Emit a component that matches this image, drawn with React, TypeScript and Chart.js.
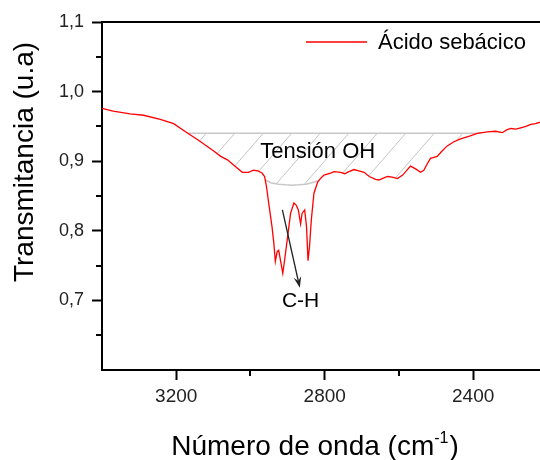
import React, { useEffect, useRef } from "react";
import { Chart, registerables } from "chart.js";

Chart.register(...registerables);

// ---- data ----
const WAVENUMBER = [
  3400, 3370, 3324, 3288, 3243, 3207, 3171, 3140, 3121, 3100, 3080, 3062, 3040, 3022, 3005, 2992,
  2980, 2969, 2962, 2957, 2951, 2942, 2937, 2933, 2928, 2924, 2919, 2913, 2908, 2901, 2892, 2883,
  2877, 2871, 2865, 2861, 2854, 2849, 2845, 2841, 2836, 2829, 2819, 2810, 2802, 2784, 2775, 2757,
  2746, 2735, 2721, 2708, 2694, 2680, 2663, 2654, 2645, 2631, 2618, 2604, 2590, 2580, 2569, 2555,
  2542, 2533, 2524, 2515, 2497, 2485, 2470, 2452, 2434, 2410, 2389, 2375, 2362, 2340, 2321, 2310,
  2299, 2285, 2272, 2258, 2245, 2232, 2220,
];
const TRANSMITTANCE = [
  0.976, 0.972, 0.968, 0.966, 0.96, 0.954, 0.941, 0.93, 0.923, 0.915, 0.907, 0.902, 0.892, 0.884, 0.884, 0.887,
  0.886, 0.883, 0.878, 0.864, 0.84, 0.806, 0.782, 0.756, 0.77, 0.772, 0.757, 0.739, 0.758, 0.787, 0.825, 0.84,
  0.837, 0.83, 0.81, 0.825, 0.83, 0.806, 0.757, 0.777, 0.816, 0.854, 0.87, 0.876, 0.88, 0.883, 0.885, 0.884,
  0.882, 0.885, 0.888, 0.886, 0.884, 0.878, 0.874, 0.873, 0.875, 0.878, 0.877, 0.875, 0.88, 0.886, 0.893, 0.889,
  0.884, 0.887, 0.896, 0.904, 0.907, 0.914, 0.922, 0.928, 0.932, 0.936, 0.94, 0.941, 0.942, 0.943, 0.941, 0.945,
  0.947, 0.946, 0.948, 0.95, 0.953, 0.954, 0.956,
];
const SERIES_LABEL = "Ácido sebácico";

const X_RANGE = [2220, 3400];
const Y_RANGE = [0.6, 1.1];
const X_TICKS = [3200, 2800, 2400];
const X_MINOR = [3000, 2600];
const Y_TICKS = [0.7, 0.8, 0.9, 1.0, 1.1];
const Y_MINOR = [0.65, 0.75, 0.85, 0.95, 1.05];

// hatched "Tensión OH" band
const HATCH_LEVEL = 0.94;
const HATCH_X = [3170, 2378];
const ARC_X = [2960, 2945, 2925, 2905, 2890, 2870, 2850, 2835, 2817];
const ARC_Y = [0.873, 0.869, 0.867, 0.866, 0.8655, 0.866, 0.867, 0.869, 0.872];
const OH_LABEL = "Tensión OH";
const OH_POS = [2819, 0.913];

// C-H annotation
const CH_LABEL = "C-H";
const CH_POS = [2865, 0.699];
const ARROW_FROM = [2914, 0.83];
const ARROW_TO = [2867, 0.718];

const X_TITLE = "Número de onda (cm";
const X_TITLE_SUP = "-1";
const X_TITLE_END = ")";
const Y_TITLE = "Transmitancia (u.a)";

const FONT = "'Liberation Sans', Arial, sans-serif";

const decorPlugin = {
  id: "decor",
  beforeDatasetsDraw(chart: any) {
    const { ctx, scales } = chart;
    const xs = scales.x;
    const ys = scales.y;
    const px = (v: number) => xs.getPixelForValue(v);
    const py = (v: number) => ys.getPixelForValue(v);

    // lower boundary of the band (descending wavenumber)
    const lower: number[][] = [];
    for (let i = 0; i < WAVENUMBER.length; i++) {
      const w = WAVENUMBER[i];
      if (w <= HATCH_X[0] && w > ARC_X[0]) lower.push([w, TRANSMITTANCE[i]]);
    }
    for (let i = 0; i < ARC_X.length; i++) lower.push([ARC_X[i], ARC_Y[i]]);
    for (let i = 0; i < WAVENUMBER.length; i++) {
      const w = WAVENUMBER[i];
      if (w < ARC_X[ARC_X.length - 1] && w >= HATCH_X[1]) lower.push([w, TRANSMITTANCE[i]]);
    }

    ctx.save();
    ctx.beginPath();
    ctx.moveTo(px(HATCH_X[0]), py(HATCH_LEVEL));
    ctx.lineTo(px(HATCH_X[1]), py(HATCH_LEVEL));
    for (let i = lower.length - 1; i >= 0; i--) ctx.lineTo(px(lower[i][0]), py(lower[i][1]));
    ctx.closePath();
    ctx.clip();
    const top = py(HATCH_LEVEL) - 2;
    const bot = py(0.86) + 2;
    const slope = 1.15;
    const dx = (bot - top) / slope;
    ctx.strokeStyle = "#c4c4c4";
    ctx.lineWidth = 1;
    for (let x0 = chart.chartArea.left - 60; x0 < chart.chartArea.right + 60; x0 += 28.5) {
      ctx.beginPath();
      ctx.moveTo(x0, bot);
      ctx.lineTo(x0 + dx, top);
      ctx.stroke();
    }
    ctx.restore();

    ctx.save();
    ctx.strokeStyle = "#c8c8c8";
    ctx.lineWidth = 1.5;
    ctx.beginPath();
    ctx.moveTo(px(HATCH_X[0]), py(HATCH_LEVEL));
    ctx.lineTo(px(HATCH_X[1]), py(HATCH_LEVEL));
    ctx.stroke();
    ctx.beginPath();
    for (let i = 0; i < ARC_X.length; i++) {
      const X = px(ARC_X[i]);
      const Y = py(ARC_Y[i]);
      if (i === 0) ctx.moveTo(X, Y);
      else ctx.lineTo(X, Y);
    }
    ctx.stroke();
    ctx.restore();
  },
  afterDraw(chart: any) {
    const { ctx, scales, chartArea } = chart;
    const xs = scales.x;
    const ys = scales.y;
    const px = (v: number) => xs.getPixelForValue(v);
    const py = (v: number) => ys.getPixelForValue(v);
    ctx.save();

    // top frame line
    ctx.strokeStyle = "#000";
    ctx.lineWidth = 2;
    ctx.beginPath();
    ctx.moveTo(chartArea.left - 1, chartArea.top);
    ctx.lineTo(chartArea.right, chartArea.top);
    ctx.stroke();

    // minor ticks
    ctx.beginPath();
    for (const v of X_MINOR) {
      const X = Math.round(px(v));
      ctx.moveTo(X, chartArea.bottom);
      ctx.lineTo(X, chartArea.bottom + 6);
    }
    for (const v of Y_MINOR) {
      const Y = Math.round(py(v));
      ctx.moveTo(chartArea.left, Y);
      ctx.lineTo(chartArea.left - 6, Y);
    }
    ctx.stroke();

    // legend
    const ds = chart.data.datasets[0];
    ctx.strokeStyle = ds.borderColor;
    ctx.lineWidth = 1.3;
    ctx.beginPath();
    ctx.moveTo(306, 42);
    ctx.lineTo(367, 42);
    ctx.stroke();
    ctx.fillStyle = "#000";
    ctx.font = `22px ${FONT}`;
    ctx.textAlign = "left";
    ctx.textBaseline = "middle";
    ctx.fillText(ds.label, 378, 43);

    // Tensión OH label
    ctx.textAlign = "center";
    ctx.fillText(OH_LABEL, px(OH_POS[0]), py(OH_POS[1]));

    // C-H label
    ctx.font = `21px ${FONT}`;
    ctx.fillText(CH_LABEL, px(CH_POS[0]), py(CH_POS[1]));

    // arrow
    const ax0 = px(ARROW_FROM[0]);
    const ay0 = py(ARROW_FROM[1]);
    const ax1 = px(ARROW_TO[0]);
    const ay1 = py(ARROW_TO[1]);
    const ang = Math.atan2(ay1 - ay0, ax1 - ax0);
    ctx.strokeStyle = "#222";
    ctx.fillStyle = "#222";
    ctx.lineWidth = 1.3;
    ctx.beginPath();
    ctx.moveTo(ax0, ay0);
    ctx.lineTo(ax1 - 6 * Math.cos(ang), ay1 - 6 * Math.sin(ang));
    ctx.stroke();
    const L = 12;
    const a = 0.33;
    ctx.beginPath();
    ctx.moveTo(ax1, ay1);
    ctx.lineTo(ax1 - L * Math.cos(ang - a), ay1 - L * Math.sin(ang - a));
    ctx.lineTo(ax1 - 7 * Math.cos(ang), ay1 - 7 * Math.sin(ang));
    ctx.lineTo(ax1 - L * Math.cos(ang + a), ay1 - L * Math.sin(ang + a));
    ctx.closePath();
    ctx.fill();

    // axis titles
    ctx.fillStyle = "#000";
    ctx.textBaseline = "alphabetic";
    ctx.textAlign = "left";
    const big = `28px ${FONT}`;
    const small = `16px ${FONT}`;
    ctx.font = big;
    const w1 = ctx.measureText(X_TITLE).width;
    const w3 = ctx.measureText(X_TITLE_END).width;
    ctx.font = small;
    const w2 = ctx.measureText(X_TITLE_SUP).width;
    const total = w1 + w2 + w3 + 1;
    let x = 315 - total / 2;
    const base = 455;
    ctx.font = big;
    ctx.fillText(X_TITLE, x, base);
    x += w1;
    ctx.font = small;
    ctx.fillText(X_TITLE_SUP, x, base - 12);
    x += w2 + 1;
    ctx.font = big;
    ctx.fillText(X_TITLE_END, x, base);

    ctx.translate(33, 162);
    ctx.rotate(-Math.PI / 2);
    ctx.textAlign = "center";
    ctx.font = big;
    ctx.fillText(Y_TITLE, 0, 0);
    ctx.restore();
  },
};

export default function App() {
  const ref = useRef<HTMLCanvasElement | null>(null);

  useEffect(() => {
    const canvas = ref.current;
    if (!canvas) return;
    const points = WAVENUMBER.map((w, i) => ({ x: w, y: TRANSMITTANCE[i] }));
    const chart = new Chart(canvas, {
      type: "line",
      data: {
        datasets: [
          {
            label: SERIES_LABEL,
            data: points,
            borderColor: "#ff0000",
            borderWidth: 1.3,
            pointRadius: 0,
            tension: 0,
            fill: false,
          },
        ],
      },
      options: {
        responsive: false,
        animation: false,
        events: [],
        layout: { padding: { top: 22, left: 0, right: 0, bottom: 0 } },
        plugins: { legend: { display: false }, tooltip: { enabled: false } },
        scales: {
          x: {
            type: "linear",
            reverse: true,
            min: X_RANGE[0],
            max: X_RANGE[1],
            afterBuildTicks: (s: any) => {
              s.ticks = X_TICKS.map((v) => ({ value: v }));
            },
            afterFit: (s: any) => {
              s.height = 90;
            },
            grid: {
              drawOnChartArea: false,
              drawTicks: true,
              tickLength: 10,
              tickColor: "#000",
              tickWidth: 2,
            },
            border: { display: true, color: "#000", width: 2 },
            ticks: {
              font: { family: FONT, size: 19 },
              color: "#222",
              padding: 5,
              maxRotation: 0,
              autoSkip: false,
              callback: (v: any) => String(v),
            },
          },
          y: {
            type: "linear",
            min: Y_RANGE[0],
            max: Y_RANGE[1],
            afterBuildTicks: (s: any) => {
              s.ticks = Y_TICKS.map((v) => ({ value: v }));
            },
            afterFit: (s: any) => {
              s.width = 102;
            },
            grid: {
              drawOnChartArea: false,
              drawTicks: true,
              tickLength: 10,
              tickColor: "#000",
              tickWidth: 2,
            },
            border: { display: true, color: "#000", width: 2 },
            ticks: {
              font: { family: FONT, size: 18 },
              color: "#222",
              padding: 8,
              autoSkip: false,
              callback: (v: any) => Number(v).toFixed(1).replace(".", ","),
            },
          },
        },
      },
      plugins: [decorPlugin],
    });
    return () => chart.destroy();
  }, []);

  return (
    <div style={{ position: "fixed", left: 0, top: 0, width: 540, height: 460, background: "#fff" }}>
      <canvas ref={ref} width={540} height={460} style={{ width: 540, height: 460, display: "block" }} />
    </div>
  );
}
